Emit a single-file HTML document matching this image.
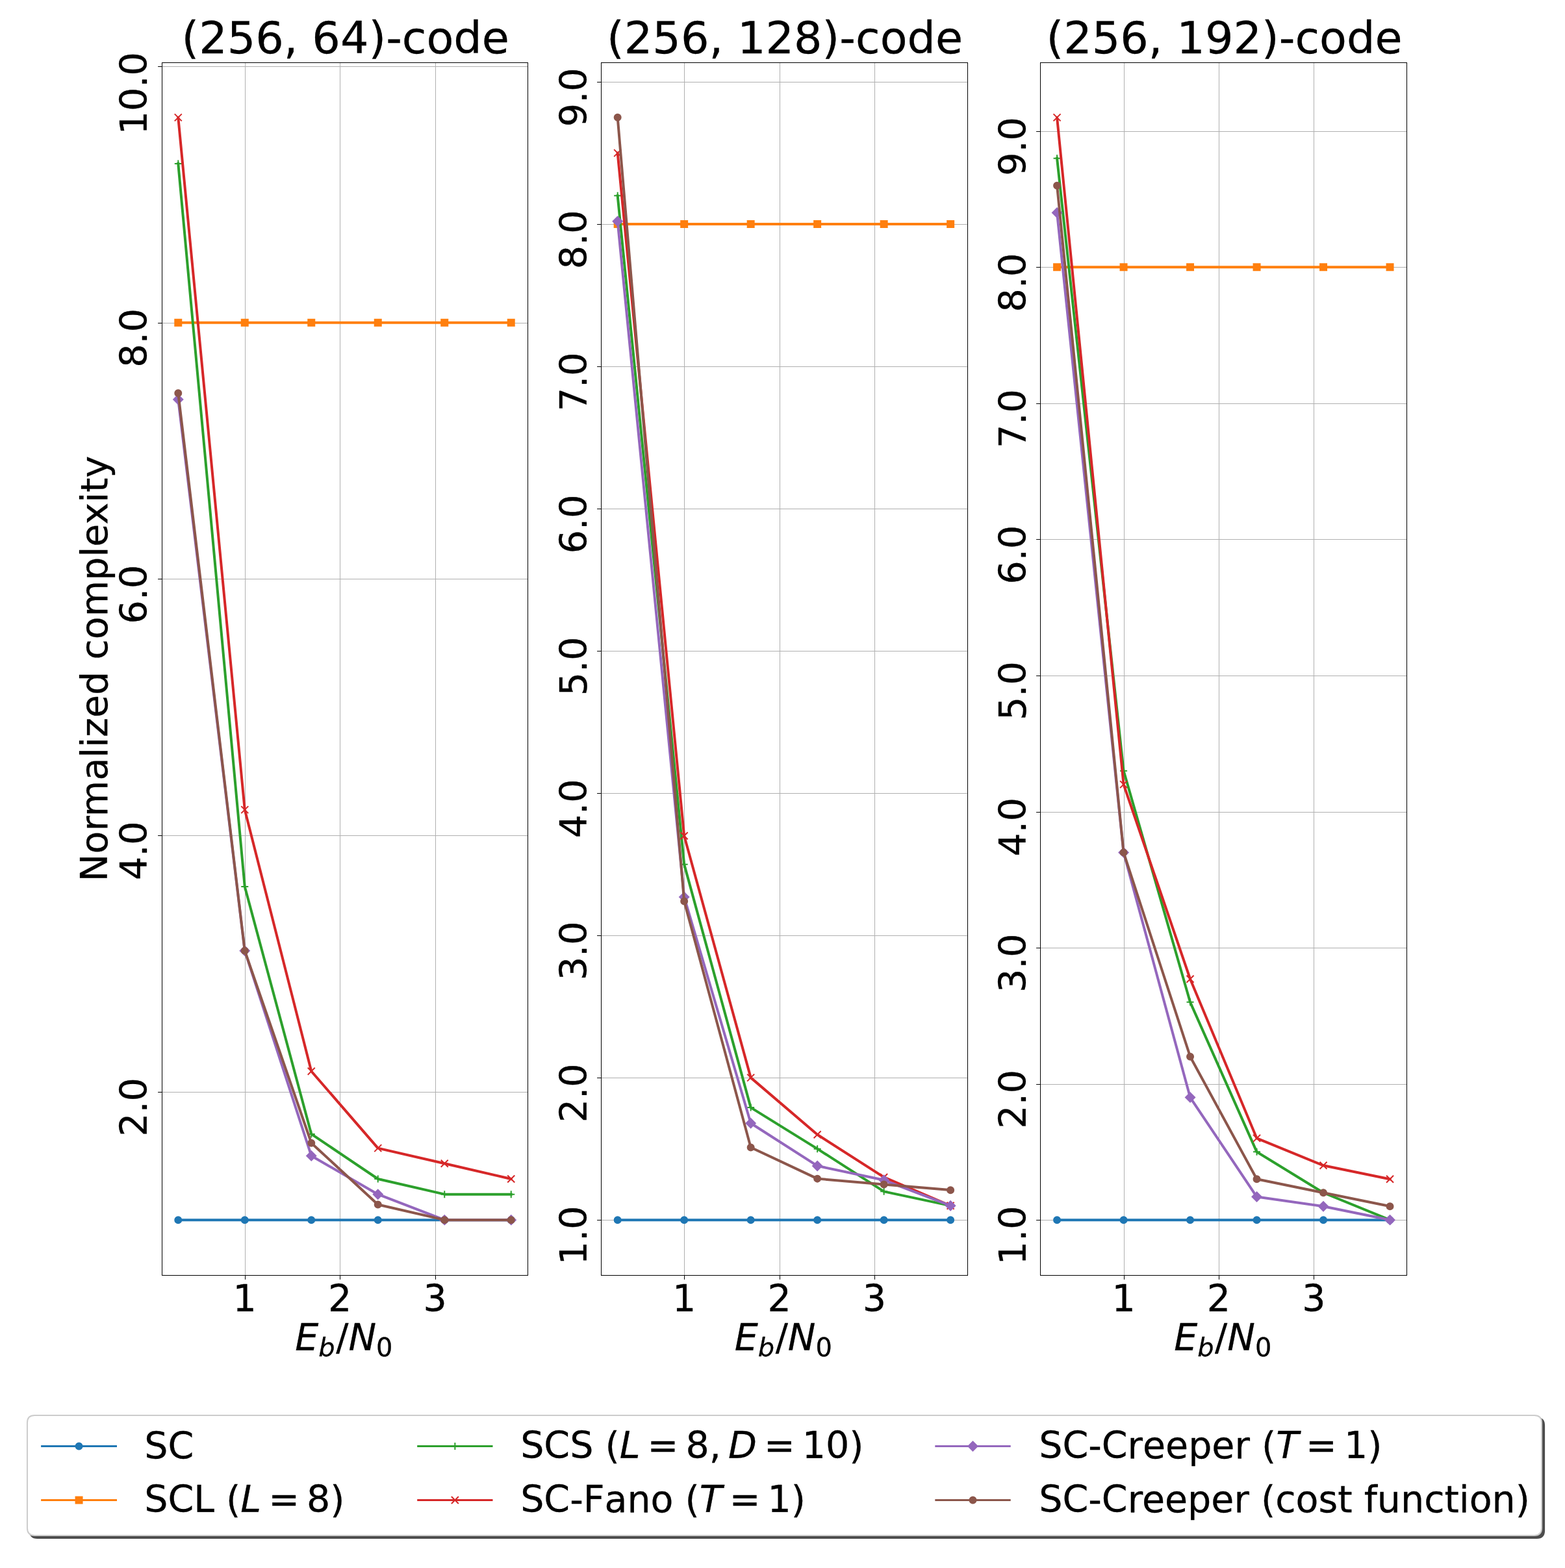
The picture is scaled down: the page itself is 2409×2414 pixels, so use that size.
<!DOCTYPE html>
<html><head><meta charset="utf-8"><title>Normalized complexity vs Eb/N0</title>
<style>html,body{margin:0;padding:0;background:#fff;}svg{display:block;}</style>
</head><body>
<svg width="2409" height="2414" viewBox="0 0 1204.5 1207">
  <defs>
  <style type="text/css">*{stroke-linejoin: round; stroke-linecap: butt} text{stroke:#000;stroke-width:0.15px;}</style>
 </defs>
 <g id="figure_1">
  <g id="patch_1">
   <path d="M 0 1207 L 1204.5 1207 L 1204.5 0 L 0 0 z
" style="fill: #ffffff"/>
  </g>
  <g id="axes_1">
   <g id="patch_2">
    <path d="M 124.325 981.5 L 406.175 981.5 L 406.175 48 L 124.325 48 z
" style="fill: #ffffff"/>
   </g>
   <g id="matplotlib.axis_1">
    <g id="xtick_1">
     <g id="line2d_1">
      <path d="M 188.7500 981.5 L 188.7500 48 " clip-path="url(#p4440f351e7)" style="fill: none; stroke: #b0b0b0; stroke-width: 0.5; stroke-linecap: square"/>
     </g>
     <g id="line2d_2">
      <defs>
       <path id="m60f537de14" d="M 0 0 L 0 3.2 " style="stroke: #000000; stroke-width: 0.5"/>
      </defs>
      <g>
       <use xlink:href="#m60f537de14" x="188.7500" y="981.7500" style="stroke: #000000; stroke-width: 0.5"/>
      </g>
     </g>
     <g id="text_1">
      <text style="font-size: 28.525px; font-family: 'DejaVu Sans', sans-serif; text-anchor: middle" x="188.381818" y="1009.474543" transform="rotate(-0 188.381818 1009.474543)">1</text>
     </g>
    </g>
    <g id="xtick_2">
     <g id="line2d_3">
      <path d="M 261.7500 981.5 L 261.7500 48 " clip-path="url(#p4440f351e7)" style="fill: none; stroke: #b0b0b0; stroke-width: 0.5; stroke-linecap: square"/>
     </g>
     <g id="line2d_4">
      <g>
       <use xlink:href="#m60f537de14" x="261.7500" y="981.7500" style="stroke: #000000; stroke-width: 0.5"/>
      </g>
     </g>
     <g id="text_2">
      <text style="font-size: 28.525px; font-family: 'DejaVu Sans', sans-serif; text-anchor: middle" x="261.58961" y="1009.474543" transform="rotate(-0 261.58961 1009.474543)">2</text>
     </g>
    </g>
    <g id="xtick_3">
     <g id="line2d_5">
      <path d="M 335.2500 981.5 L 335.2500 48 " clip-path="url(#p4440f351e7)" style="fill: none; stroke: #b0b0b0; stroke-width: 0.5; stroke-linecap: square"/>
     </g>
     <g id="line2d_6">
      <g>
       <use xlink:href="#m60f537de14" x="335.2500" y="981.7500" style="stroke: #000000; stroke-width: 0.5"/>
      </g>
     </g>
     <g id="text_3">
      <text style="font-size: 28.525px; font-family: 'DejaVu Sans', sans-serif; text-anchor: middle" x="334.797403" y="1009.474543" transform="rotate(-0 334.797403 1009.474543)">3</text>
     </g>
    </g>
    <g id="text_4">
     <!-- $E_b/N_0$ -->
     <g transform="translate(227.169125 1040.331395)">
      <text><tspan x="0" y="-0.859375" style="font-style: oblique; font-size: 28.525px; font-family: 'DejaVu Sans', sans-serif">E</tspan><tspan x="18.007324" y="3.898438" style="font-style: oblique; font-size: 19.9675px; font-family: 'DejaVu Sans', sans-serif">b</tspan><tspan x="31.463867" y="-0.859375" style="font-size: 28.525px; font-family: 'DejaVu Sans', sans-serif">/</tspan><tspan x="41.065918" y="-0.859375" style="font-style: oblique; font-size: 28.525px; font-family: 'DejaVu Sans', sans-serif">N</tspan><tspan x="62.385254" y="3.898438" style="font-size: 19.9675px; font-family: 'DejaVu Sans', sans-serif">0</tspan></text>
     </g>
    </g>
   </g>
   <g id="matplotlib.axis_2">
    <g id="ytick_1">
     <g id="line2d_7">
      <path d="M 124.325 840.7500 L 406.175 840.7500 " clip-path="url(#p4440f351e7)" style="fill: none; stroke: #b0b0b0; stroke-width: 0.5; stroke-linecap: square"/>
     </g>
     <g id="line2d_8">
      <defs>
       <path id="m4d8415eed5" d="M 0 0 L -3.2 0 " style="stroke: #000000; stroke-width: 0.5"/>
      </defs>
      <g>
       <use xlink:href="#m4d8415eed5" x="124.7500" y="840.7500" style="stroke: #000000; stroke-width: 0.5"/>
      </g>
     </g>
     <g id="text_5">
      <text style="font-size: 28.525px; font-family: 'DejaVu Sans', sans-serif" transform="translate(113.142691 874.915927) rotate(-90)">2.0</text>
     </g>
    </g>
    <g id="ytick_2">
     <g id="line2d_9">
      <path d="M 124.325 643.2500 L 406.175 643.2500 " clip-path="url(#p4440f351e7)" style="fill: none; stroke: #b0b0b0; stroke-width: 0.5; stroke-linecap: square"/>
     </g>
     <g id="line2d_10">
      <g>
       <use xlink:href="#m4d8415eed5" x="124.7500" y="643.2500" style="stroke: #000000; stroke-width: 0.5"/>
      </g>
     </g>
     <g id="text_6">
      <text style="font-size: 28.525px; font-family: 'DejaVu Sans', sans-serif" transform="translate(113.142691 677.558634) rotate(-90)">4.0</text>
     </g>
    </g>
    <g id="ytick_3">
     <g id="line2d_11">
      <path d="M 124.325 445.7500 L 406.175 445.7500 " clip-path="url(#p4440f351e7)" style="fill: none; stroke: #b0b0b0; stroke-width: 0.5; stroke-linecap: square"/>
     </g>
     <g id="line2d_12">
      <g>
       <use xlink:href="#m4d8415eed5" x="124.7500" y="445.7500" style="stroke: #000000; stroke-width: 0.5"/>
      </g>
     </g>
     <g id="text_7">
      <text style="font-size: 28.525px; font-family: 'DejaVu Sans', sans-serif" transform="translate(113.142691 480.20134) rotate(-90)">6.0</text>
     </g>
    </g>
    <g id="ytick_4">
     <g id="line2d_13">
      <path d="M 124.325 248.7500 L 406.175 248.7500 " clip-path="url(#p4440f351e7)" style="fill: none; stroke: #b0b0b0; stroke-width: 0.5; stroke-linecap: square"/>
     </g>
     <g id="line2d_14">
      <g>
       <use xlink:href="#m4d8415eed5" x="124.7500" y="248.7500" style="stroke: #000000; stroke-width: 0.5"/>
      </g>
     </g>
     <g id="text_8">
      <text style="font-size: 28.525px; font-family: 'DejaVu Sans', sans-serif" transform="translate(113.142691 282.844046) rotate(-90)">8.0</text>
     </g>
    </g>
    <g id="ytick_5">
     <g id="line2d_15">
      <path d="M 124.325 51.2500 L 406.175 51.2500 " clip-path="url(#p4440f351e7)" style="fill: none; stroke: #b0b0b0; stroke-width: 0.5; stroke-linecap: square"/>
     </g>
     <g id="line2d_16">
      <g>
       <use xlink:href="#m4d8415eed5" x="124.7500" y="51.2500" style="stroke: #000000; stroke-width: 0.5"/>
      </g>
     </g>
     <g id="text_9">
      <text style="font-size: 28.525px; font-family: 'DejaVu Sans', sans-serif" transform="translate(113.142691 103.635783) rotate(-90)">10.0</text>
     </g>
    </g>
    <g id="text_10">
     <text style="font-size: 28.525px; font-family: 'DejaVu Sans', sans-serif; text-anchor: middle" x="82.33584" y="514.75" transform="rotate(-90 82.33584 514.75)">Normalized complexity</text>
    </g>
   </g>
   <g id="line2d_17">
    <path d="M 137.136364 939.068182 L 188.381818 939.068182 L 239.627273 939.068182 L 290.872727 939.068182 L 342.118182 939.068182 L 393.363636 939.068182 " clip-path="url(#p4440f351e7)" style="fill: none; stroke: #1f77b4; stroke-width: 2; stroke-linecap: square"/>
    <defs>
     <path id="m7fca04d956" d="M 0 2.5 C 0.663008 2.5 1.29895 2.236584 1.767767 1.767767 C 2.236584 1.29895 2.5 0.663008 2.5 0 C 2.5 -0.663008 2.236584 -1.29895 1.767767 -1.767767 C 1.29895 -2.236584 0.663008 -2.5 0 -2.5 C -0.663008 -2.5 -1.29895 -2.236584 -1.767767 -1.767767 C -2.236584 -1.29895 -2.5 -0.663008 -2.5 0 C -2.5 0.663008 -2.236584 1.29895 -1.767767 1.767767 C -1.29895 2.236584 -0.663008 2.5 0 2.5 z
" style="stroke: #1f77b4"/>
    </defs>
    <g clip-path="url(#p4440f351e7)">
     <use xlink:href="#m7fca04d956" x="137.136364" y="939.068182" style="fill: #1f77b4; stroke: #1f77b4"/>
     <use xlink:href="#m7fca04d956" x="188.381818" y="939.068182" style="fill: #1f77b4; stroke: #1f77b4"/>
     <use xlink:href="#m7fca04d956" x="239.627273" y="939.068182" style="fill: #1f77b4; stroke: #1f77b4"/>
     <use xlink:href="#m7fca04d956" x="290.872727" y="939.068182" style="fill: #1f77b4; stroke: #1f77b4"/>
     <use xlink:href="#m7fca04d956" x="342.118182" y="939.068182" style="fill: #1f77b4; stroke: #1f77b4"/>
     <use xlink:href="#m7fca04d956" x="393.363636" y="939.068182" style="fill: #1f77b4; stroke: #1f77b4"/>
    </g>
   </g>
   <g id="line2d_18">
    <path d="M 137.136364 248.317653 L 188.381818 248.317653 L 239.627273 248.317653 L 290.872727 248.317653 L 342.118182 248.317653 L 393.363636 248.317653 " clip-path="url(#p4440f351e7)" style="fill: none; stroke: #ff7f0e; stroke-width: 2; stroke-linecap: square"/>
    <defs>
     <path id="mcfdd48ca96" d="M -2.5 2.5 L 2.5 2.5 L 2.5 -2.5 L -2.5 -2.5 z
" style="stroke: #ff7f0e; stroke-linejoin: miter"/>
    </defs>
    <g clip-path="url(#p4440f351e7)">
     <use xlink:href="#mcfdd48ca96" x="137.136364" y="248.317653" style="fill: #ff7f0e; stroke: #ff7f0e; stroke-linejoin: miter"/>
     <use xlink:href="#mcfdd48ca96" x="188.381818" y="248.317653" style="fill: #ff7f0e; stroke: #ff7f0e; stroke-linejoin: miter"/>
     <use xlink:href="#mcfdd48ca96" x="239.627273" y="248.317653" style="fill: #ff7f0e; stroke: #ff7f0e; stroke-linejoin: miter"/>
     <use xlink:href="#mcfdd48ca96" x="290.872727" y="248.317653" style="fill: #ff7f0e; stroke: #ff7f0e; stroke-linejoin: miter"/>
     <use xlink:href="#mcfdd48ca96" x="342.118182" y="248.317653" style="fill: #ff7f0e; stroke: #ff7f0e; stroke-linejoin: miter"/>
     <use xlink:href="#mcfdd48ca96" x="393.363636" y="248.317653" style="fill: #ff7f0e; stroke: #ff7f0e; stroke-linejoin: miter"/>
    </g>
   </g>
   <g id="line2d_19">
    <path d="M 137.136364 125.956131 L 188.381818 682.5037 L 239.627273 872.953488 L 290.872727 907.491015 L 342.118182 919.332452 L 393.363636 919.332452 " clip-path="url(#p4440f351e7)" style="fill: none; stroke: #2ca02c; stroke-width: 2; stroke-linecap: square"/>
    <defs>
     <path id="mfa1b8ec4ec" d="M -2.75 0 L 2.75 0 M 0 2.75 L 0 -2.75 " style="stroke: #2ca02c"/>
    </defs>
    <g clip-path="url(#p4440f351e7)">
     <use xlink:href="#mfa1b8ec4ec" x="137.136364" y="125.956131" style="fill: #2ca02c; stroke: #2ca02c"/>
     <use xlink:href="#mfa1b8ec4ec" x="188.381818" y="682.5037" style="fill: #2ca02c; stroke: #2ca02c"/>
     <use xlink:href="#mfa1b8ec4ec" x="239.627273" y="872.953488" style="fill: #2ca02c; stroke: #2ca02c"/>
     <use xlink:href="#mfa1b8ec4ec" x="290.872727" y="907.491015" style="fill: #2ca02c; stroke: #2ca02c"/>
     <use xlink:href="#mfa1b8ec4ec" x="342.118182" y="919.332452" style="fill: #2ca02c; stroke: #2ca02c"/>
     <use xlink:href="#mfa1b8ec4ec" x="393.363636" y="919.332452" style="fill: #2ca02c; stroke: #2ca02c"/>
    </g>
   </g>
   <g id="line2d_20">
    <path d="M 137.136364 90.431818 L 188.381818 623.296512 L 239.627273 824.600951 L 290.872727 883.80814 L 342.118182 895.649577 L 393.363636 907.491015 " clip-path="url(#p4440f351e7)" style="fill: none; stroke: #d62728; stroke-width: 2; stroke-linecap: square"/>
    <defs>
     <path id="mf3e1eaf41d" d="M -2.75 2.75 L 2.75 -2.75 M -2.75 -2.75 L 2.75 2.75 " style="stroke: #d62728"/>
    </defs>
    <g clip-path="url(#p4440f351e7)">
     <use xlink:href="#mf3e1eaf41d" x="137.136364" y="90.431818" style="fill: #d62728; stroke: #d62728"/>
     <use xlink:href="#mf3e1eaf41d" x="188.381818" y="623.296512" style="fill: #d62728; stroke: #d62728"/>
     <use xlink:href="#mf3e1eaf41d" x="239.627273" y="824.600951" style="fill: #d62728; stroke: #d62728"/>
     <use xlink:href="#mf3e1eaf41d" x="290.872727" y="883.80814" style="fill: #d62728; stroke: #d62728"/>
     <use xlink:href="#mf3e1eaf41d" x="342.118182" y="895.649577" style="fill: #d62728; stroke: #d62728"/>
     <use xlink:href="#mf3e1eaf41d" x="393.363636" y="907.491015" style="fill: #d62728; stroke: #d62728"/>
    </g>
   </g>
   <g id="line2d_21">
    <path d="M 137.136364 307.524841 L 188.381818 731.843023 L 239.627273 889.728858 L 290.872727 919.332452 L 342.118182 939.068182 L 393.363636 939.068182 " clip-path="url(#p4440f351e7)" style="fill: none; stroke: #9467bd; stroke-width: 2; stroke-linecap: square"/>
    <defs>
     <path id="mfa4d818916" d="M -0 3.535534 L 3.535534 0 L 0 -3.535534 L -3.535534 -0 z
" style="stroke: #9467bd; stroke-linejoin: miter"/>
    </defs>
    <g clip-path="url(#p4440f351e7)">
     <use xlink:href="#mfa4d818916" x="137.136364" y="307.524841" style="fill: #9467bd; stroke: #9467bd; stroke-linejoin: miter"/>
     <use xlink:href="#mfa4d818916" x="188.381818" y="731.843023" style="fill: #9467bd; stroke: #9467bd; stroke-linejoin: miter"/>
     <use xlink:href="#mfa4d818916" x="239.627273" y="889.728858" style="fill: #9467bd; stroke: #9467bd; stroke-linejoin: miter"/>
     <use xlink:href="#mfa4d818916" x="290.872727" y="919.332452" style="fill: #9467bd; stroke: #9467bd; stroke-linejoin: miter"/>
     <use xlink:href="#mfa4d818916" x="342.118182" y="939.068182" style="fill: #9467bd; stroke: #9467bd; stroke-linejoin: miter"/>
     <use xlink:href="#mfa4d818916" x="393.363636" y="939.068182" style="fill: #9467bd; stroke: #9467bd; stroke-linejoin: miter"/>
    </g>
   </g>
   <g id="line2d_22">
    <path d="M 137.136364 302.590909 L 188.381818 731.843023 L 239.627273 879.860994 L 290.872727 927.226744 L 342.118182 939.068182 L 393.363636 939.068182 " clip-path="url(#p4440f351e7)" style="fill: none; stroke: #8c564b; stroke-width: 2; stroke-linecap: square"/>
    <defs>
     <path id="m0a47471f37" d="M 0 2.5 C 0.663008 2.5 1.29895 2.236584 1.767767 1.767767 C 2.236584 1.29895 2.5 0.663008 2.5 0 C 2.5 -0.663008 2.236584 -1.29895 1.767767 -1.767767 C 1.29895 -2.236584 0.663008 -2.5 0 -2.5 C -0.663008 -2.5 -1.29895 -2.236584 -1.767767 -1.767767 C -2.236584 -1.29895 -2.5 -0.663008 -2.5 0 C -2.5 0.663008 -2.236584 1.29895 -1.767767 1.767767 C -1.29895 2.236584 -0.663008 2.5 0 2.5 z
" style="stroke: #8c564b"/>
    </defs>
    <g clip-path="url(#p4440f351e7)">
     <use xlink:href="#m0a47471f37" x="137.136364" y="302.590909" style="fill: #8c564b; stroke: #8c564b"/>
     <use xlink:href="#m0a47471f37" x="188.381818" y="731.843023" style="fill: #8c564b; stroke: #8c564b"/>
     <use xlink:href="#m0a47471f37" x="239.627273" y="879.860994" style="fill: #8c564b; stroke: #8c564b"/>
     <use xlink:href="#m0a47471f37" x="290.872727" y="927.226744" style="fill: #8c564b; stroke: #8c564b"/>
     <use xlink:href="#m0a47471f37" x="342.118182" y="939.068182" style="fill: #8c564b; stroke: #8c564b"/>
     <use xlink:href="#m0a47471f37" x="393.363636" y="939.068182" style="fill: #8c564b; stroke: #8c564b"/>
    </g>
   </g>
   <g id="patch_3">
    <path d="M 124.7500 981.7500 L 124.7500 48.2500 " style="fill: none; stroke: #000000; stroke-width: 0.5; stroke-linejoin: miter; stroke-linecap: square"/>
   </g>
   <g id="patch_4">
    <path d="M 406.2500 981.7500 L 406.2500 48.2500 " style="fill: none; stroke: #000000; stroke-width: 0.5; stroke-linejoin: miter; stroke-linecap: square"/>
   </g>
   <g id="patch_5">
    <path d="M 124.7500 981.7500 L 406.2500 981.7500 " style="fill: none; stroke: #000000; stroke-width: 0.5; stroke-linejoin: miter; stroke-linecap: square"/>
   </g>
   <g id="patch_6">
    <path d="M 124.7500 48.2500 L 406.2500 48.2500 " style="fill: none; stroke: #000000; stroke-width: 0.5; stroke-linejoin: miter; stroke-linecap: square"/>
   </g>
   <g id="text_11">
    <text style="font-size: 34.23px; font-family: 'DejaVu Sans', sans-serif; text-anchor: middle" x="265.85" y="40.88123" transform="rotate(-0 265.85 40.88123)">(256, 64)-code</text>
   </g>
  </g>
  <g id="axes_2">
   <g id="patch_7">
    <path d="M 462.525 981.5 L 744.375 981.5 L 744.375 48 L 462.525 48 z
" style="fill: #ffffff"/>
   </g>
   <g id="matplotlib.axis_3">
    <g id="xtick_4">
     <g id="line2d_23">
      <path d="M 526.7500 981.5 L 526.7500 48 " clip-path="url(#p28c9ab3d0b)" style="fill: none; stroke: #b0b0b0; stroke-width: 0.5; stroke-linecap: square"/>
     </g>
     <g id="line2d_24">
      <g>
       <use xlink:href="#m60f537de14" x="526.7500" y="981.7500" style="stroke: #000000; stroke-width: 0.5"/>
      </g>
     </g>
     <g id="text_12">
      <text style="font-size: 28.525px; font-family: 'DejaVu Sans', sans-serif; text-anchor: middle" x="526.581818" y="1009.474543" transform="rotate(-0 526.581818 1009.474543)">1</text>
     </g>
    </g>
    <g id="xtick_5">
     <g id="line2d_25">
      <path d="M 600.2500 981.5 L 600.2500 48 " clip-path="url(#p28c9ab3d0b)" style="fill: none; stroke: #b0b0b0; stroke-width: 0.5; stroke-linecap: square"/>
     </g>
     <g id="line2d_26">
      <g>
       <use xlink:href="#m60f537de14" x="600.2500" y="981.7500" style="stroke: #000000; stroke-width: 0.5"/>
      </g>
     </g>
     <g id="text_13">
      <text style="font-size: 28.525px; font-family: 'DejaVu Sans', sans-serif; text-anchor: middle" x="599.78961" y="1009.474543" transform="rotate(-0 599.78961 1009.474543)">2</text>
     </g>
    </g>
    <g id="xtick_6">
     <g id="line2d_27">
      <path d="M 673.2500 981.5 L 673.2500 48 " clip-path="url(#p28c9ab3d0b)" style="fill: none; stroke: #b0b0b0; stroke-width: 0.5; stroke-linecap: square"/>
     </g>
     <g id="line2d_28">
      <g>
       <use xlink:href="#m60f537de14" x="673.2500" y="981.7500" style="stroke: #000000; stroke-width: 0.5"/>
      </g>
     </g>
     <g id="text_14">
      <text style="font-size: 28.525px; font-family: 'DejaVu Sans', sans-serif; text-anchor: middle" x="672.997403" y="1009.474543" transform="rotate(-0 672.997403 1009.474543)">3</text>
     </g>
    </g>
    <g id="text_15">
     <!-- $E_b/N_0$ -->
     <g transform="translate(565.369125 1040.331395)">
      <text><tspan x="0" y="-0.859375" style="font-style: oblique; font-size: 28.525px; font-family: 'DejaVu Sans', sans-serif">E</tspan><tspan x="18.007324" y="3.898438" style="font-style: oblique; font-size: 19.9675px; font-family: 'DejaVu Sans', sans-serif">b</tspan><tspan x="31.463867" y="-0.859375" style="font-size: 28.525px; font-family: 'DejaVu Sans', sans-serif">/</tspan><tspan x="41.065918" y="-0.859375" style="font-style: oblique; font-size: 28.525px; font-family: 'DejaVu Sans', sans-serif">N</tspan><tspan x="62.385254" y="3.898438" style="font-size: 19.9675px; font-family: 'DejaVu Sans', sans-serif">0</tspan></text>
     </g>
    </g>
   </g>
   <g id="matplotlib.axis_4">
    <g id="ytick_6">
     <g id="line2d_29">
      <path d="M 462.525 939.2500 L 744.375 939.2500 " clip-path="url(#p28c9ab3d0b)" style="fill: none; stroke: #b0b0b0; stroke-width: 0.5; stroke-linecap: square"/>
     </g>
     <g id="line2d_30">
      <g>
       <use xlink:href="#m4d8415eed5" x="462.7500" y="939.2500" style="stroke: #000000; stroke-width: 0.5"/>
      </g>
     </g>
     <g id="text_16">
      <text style="font-size: 28.525px; font-family: 'DejaVu Sans', sans-serif" transform="translate(451.342691 973.594574) rotate(-90)">1.0</text>
     </g>
    </g>
    <g id="ytick_7">
     <g id="line2d_31">
      <path d="M 462.525 829.7500 L 744.375 829.7500 " clip-path="url(#p28c9ab3d0b)" style="fill: none; stroke: #b0b0b0; stroke-width: 0.5; stroke-linecap: square"/>
     </g>
     <g id="line2d_32">
      <g>
       <use xlink:href="#m4d8415eed5" x="462.7500" y="829.7500" style="stroke: #000000; stroke-width: 0.5"/>
      </g>
     </g>
     <g id="text_17">
      <text style="font-size: 28.525px; font-family: 'DejaVu Sans', sans-serif" transform="translate(451.342691 864.093108) rotate(-90)">2.0</text>
     </g>
    </g>
    <g id="ytick_8">
     <g id="line2d_33">
      <path d="M 462.525 720.2500 L 744.375 720.2500 " clip-path="url(#p28c9ab3d0b)" style="fill: none; stroke: #b0b0b0; stroke-width: 0.5; stroke-linecap: square"/>
     </g>
     <g id="line2d_34">
      <g>
       <use xlink:href="#m4d8415eed5" x="462.7500" y="720.2500" style="stroke: #000000; stroke-width: 0.5"/>
      </g>
     </g>
     <g id="text_18">
      <text style="font-size: 28.525px; font-family: 'DejaVu Sans', sans-serif" transform="translate(451.342691 754.591642) rotate(-90)">3.0</text>
     </g>
    </g>
    <g id="ytick_9">
     <g id="line2d_35">
      <path d="M 462.525 610.7500 L 744.375 610.7500 " clip-path="url(#p28c9ab3d0b)" style="fill: none; stroke: #b0b0b0; stroke-width: 0.5; stroke-linecap: square"/>
     </g>
     <g id="line2d_36">
      <g>
       <use xlink:href="#m4d8415eed5" x="462.7500" y="610.7500" style="stroke: #000000; stroke-width: 0.5"/>
      </g>
     </g>
     <g id="text_19">
      <text style="font-size: 28.525px; font-family: 'DejaVu Sans', sans-serif" transform="translate(451.342691 645.090176) rotate(-90)">4.0</text>
     </g>
    </g>
    <g id="ytick_10">
     <g id="line2d_37">
      <path d="M 462.525 501.2500 L 744.375 501.2500 " clip-path="url(#p28c9ab3d0b)" style="fill: none; stroke: #b0b0b0; stroke-width: 0.5; stroke-linecap: square"/>
     </g>
     <g id="line2d_38">
      <g>
       <use xlink:href="#m4d8415eed5" x="462.7500" y="501.2500" style="stroke: #000000; stroke-width: 0.5"/>
      </g>
     </g>
     <g id="text_20">
      <text style="font-size: 28.525px; font-family: 'DejaVu Sans', sans-serif" transform="translate(451.342691 535.588709) rotate(-90)">5.0</text>
     </g>
    </g>
    <g id="ytick_11">
     <g id="line2d_39">
      <path d="M 462.525 391.7500 L 744.375 391.7500 " clip-path="url(#p28c9ab3d0b)" style="fill: none; stroke: #b0b0b0; stroke-width: 0.5; stroke-linecap: square"/>
     </g>
     <g id="line2d_40">
      <g>
       <use xlink:href="#m4d8415eed5" x="462.7500" y="391.7500" style="stroke: #000000; stroke-width: 0.5"/>
      </g>
     </g>
     <g id="text_21">
      <text style="font-size: 28.525px; font-family: 'DejaVu Sans', sans-serif" transform="translate(451.342691 426.087243) rotate(-90)">6.0</text>
     </g>
    </g>
    <g id="ytick_12">
     <g id="line2d_41">
      <path d="M 462.525 282.2500 L 744.375 282.2500 " clip-path="url(#p28c9ab3d0b)" style="fill: none; stroke: #b0b0b0; stroke-width: 0.5; stroke-linecap: square"/>
     </g>
     <g id="line2d_42">
      <g>
       <use xlink:href="#m4d8415eed5" x="462.7500" y="282.2500" style="stroke: #000000; stroke-width: 0.5"/>
      </g>
     </g>
     <g id="text_22">
      <text style="font-size: 28.525px; font-family: 'DejaVu Sans', sans-serif" transform="translate(451.342691 316.585777) rotate(-90)">7.0</text>
     </g>
    </g>
    <g id="ytick_13">
     <g id="line2d_43">
      <path d="M 462.525 172.7500 L 744.375 172.7500 " clip-path="url(#p28c9ab3d0b)" style="fill: none; stroke: #b0b0b0; stroke-width: 0.5; stroke-linecap: square"/>
     </g>
     <g id="line2d_44">
      <g>
       <use xlink:href="#m4d8415eed5" x="462.7500" y="172.7500" style="stroke: #000000; stroke-width: 0.5"/>
      </g>
     </g>
     <g id="text_23">
      <text style="font-size: 28.525px; font-family: 'DejaVu Sans', sans-serif" transform="translate(451.342691 207.08431) rotate(-90)">8.0</text>
     </g>
    </g>
    <g id="ytick_14">
     <g id="line2d_45">
      <path d="M 462.525 63.2500 L 744.375 63.2500 " clip-path="url(#p28c9ab3d0b)" style="fill: none; stroke: #b0b0b0; stroke-width: 0.5; stroke-linecap: square"/>
     </g>
     <g id="line2d_46">
      <g>
       <use xlink:href="#m4d8415eed5" x="462.7500" y="63.2500" style="stroke: #000000; stroke-width: 0.5"/>
      </g>
     </g>
     <g id="text_24">
      <text style="font-size: 28.525px; font-family: 'DejaVu Sans', sans-serif" transform="translate(451.342691 97.582844) rotate(-90)">9.0</text>
     </g>
    </g>
   </g>
   <g id="line2d_47">
    <path d="M 475.336364 939.068182 L 526.581818 939.068182 L 577.827273 939.068182 L 629.072727 939.068182 L 680.318182 939.068182 L 731.563636 939.068182 " clip-path="url(#p28c9ab3d0b)" style="fill: none; stroke: #1f77b4; stroke-width: 2; stroke-linecap: square"/>
    <g clip-path="url(#p28c9ab3d0b)">
     <use xlink:href="#m7fca04d956" x="475.336364" y="939.068182" style="fill: #1f77b4; stroke: #1f77b4"/>
     <use xlink:href="#m7fca04d956" x="526.581818" y="939.068182" style="fill: #1f77b4; stroke: #1f77b4"/>
     <use xlink:href="#m7fca04d956" x="577.827273" y="939.068182" style="fill: #1f77b4; stroke: #1f77b4"/>
     <use xlink:href="#m7fca04d956" x="629.072727" y="939.068182" style="fill: #1f77b4; stroke: #1f77b4"/>
     <use xlink:href="#m7fca04d956" x="680.318182" y="939.068182" style="fill: #1f77b4; stroke: #1f77b4"/>
     <use xlink:href="#m7fca04d956" x="731.563636" y="939.068182" style="fill: #1f77b4; stroke: #1f77b4"/>
    </g>
   </g>
   <g id="line2d_48">
    <path d="M 475.336364 172.557918 L 526.581818 172.557918 L 577.827273 172.557918 L 629.072727 172.557918 L 680.318182 172.557918 L 731.563636 172.557918 " clip-path="url(#p28c9ab3d0b)" style="fill: none; stroke: #ff7f0e; stroke-width: 2; stroke-linecap: square"/>
    <g clip-path="url(#p28c9ab3d0b)">
     <use xlink:href="#mcfdd48ca96" x="475.336364" y="172.557918" style="fill: #ff7f0e; stroke: #ff7f0e; stroke-linejoin: miter"/>
     <use xlink:href="#mcfdd48ca96" x="526.581818" y="172.557918" style="fill: #ff7f0e; stroke: #ff7f0e; stroke-linejoin: miter"/>
     <use xlink:href="#mcfdd48ca96" x="577.827273" y="172.557918" style="fill: #ff7f0e; stroke: #ff7f0e; stroke-linejoin: miter"/>
     <use xlink:href="#mcfdd48ca96" x="629.072727" y="172.557918" style="fill: #ff7f0e; stroke: #ff7f0e; stroke-linejoin: miter"/>
     <use xlink:href="#mcfdd48ca96" x="680.318182" y="172.557918" style="fill: #ff7f0e; stroke: #ff7f0e; stroke-linejoin: miter"/>
     <use xlink:href="#mcfdd48ca96" x="731.563636" y="172.557918" style="fill: #ff7f0e; stroke: #ff7f0e; stroke-linejoin: miter"/>
    </g>
   </g>
   <g id="line2d_49">
    <path d="M 475.336364 150.657625 L 526.581818 665.314516 L 577.827273 852.562023 L 629.072727 884.317449 L 680.318182 917.167889 L 731.563636 928.118035 " clip-path="url(#p28c9ab3d0b)" style="fill: none; stroke: #2ca02c; stroke-width: 2; stroke-linecap: square"/>
    <g clip-path="url(#p28c9ab3d0b)">
     <use xlink:href="#mfa1b8ec4ec" x="475.336364" y="150.657625" style="fill: #2ca02c; stroke: #2ca02c"/>
     <use xlink:href="#mfa1b8ec4ec" x="526.581818" y="665.314516" style="fill: #2ca02c; stroke: #2ca02c"/>
     <use xlink:href="#mfa1b8ec4ec" x="577.827273" y="852.562023" style="fill: #2ca02c; stroke: #2ca02c"/>
     <use xlink:href="#mfa1b8ec4ec" x="629.072727" y="884.317449" style="fill: #2ca02c; stroke: #2ca02c"/>
     <use xlink:href="#mfa1b8ec4ec" x="680.318182" y="917.167889" style="fill: #2ca02c; stroke: #2ca02c"/>
     <use xlink:href="#mfa1b8ec4ec" x="731.563636" y="928.118035" style="fill: #2ca02c; stroke: #2ca02c"/>
    </g>
   </g>
   <g id="line2d_50">
    <path d="M 475.336364 117.807185 L 526.581818 643.414223 L 577.827273 829.566716 L 629.072727 873.367302 L 680.318182 906.217742 L 731.563636 928.118035 " clip-path="url(#p28c9ab3d0b)" style="fill: none; stroke: #d62728; stroke-width: 2; stroke-linecap: square"/>
    <g clip-path="url(#p28c9ab3d0b)">
     <use xlink:href="#mf3e1eaf41d" x="475.336364" y="117.807185" style="fill: #d62728; stroke: #d62728"/>
     <use xlink:href="#mf3e1eaf41d" x="526.581818" y="643.414223" style="fill: #d62728; stroke: #d62728"/>
     <use xlink:href="#mf3e1eaf41d" x="577.827273" y="829.566716" style="fill: #d62728; stroke: #d62728"/>
     <use xlink:href="#mf3e1eaf41d" x="629.072727" y="873.367302" style="fill: #d62728; stroke: #d62728"/>
     <use xlink:href="#mf3e1eaf41d" x="680.318182" y="906.217742" style="fill: #d62728; stroke: #d62728"/>
     <use xlink:href="#mf3e1eaf41d" x="731.563636" y="928.118035" style="fill: #d62728; stroke: #d62728"/>
    </g>
   </g>
   <g id="line2d_51">
    <path d="M 475.336364 170.367889 L 526.581818 690.499853 L 577.827273 864.607185 L 629.072727 897.457625 L 680.318182 908.407771 L 731.563636 928.118035 " clip-path="url(#p28c9ab3d0b)" style="fill: none; stroke: #9467bd; stroke-width: 2; stroke-linecap: square"/>
    <g clip-path="url(#p28c9ab3d0b)">
     <use xlink:href="#mfa4d818916" x="475.336364" y="170.367889" style="fill: #9467bd; stroke: #9467bd; stroke-linejoin: miter"/>
     <use xlink:href="#mfa4d818916" x="526.581818" y="690.499853" style="fill: #9467bd; stroke: #9467bd; stroke-linejoin: miter"/>
     <use xlink:href="#mfa4d818916" x="577.827273" y="864.607185" style="fill: #9467bd; stroke: #9467bd; stroke-linejoin: miter"/>
     <use xlink:href="#mfa4d818916" x="629.072727" y="897.457625" style="fill: #9467bd; stroke: #9467bd; stroke-linejoin: miter"/>
     <use xlink:href="#mfa4d818916" x="680.318182" y="908.407771" style="fill: #9467bd; stroke: #9467bd; stroke-linejoin: miter"/>
     <use xlink:href="#mfa4d818916" x="731.563636" y="928.118035" style="fill: #9467bd; stroke: #9467bd; stroke-linejoin: miter"/>
    </g>
   </g>
   <g id="line2d_52">
    <path d="M 475.336364 90.431818 L 526.581818 693.784897 L 577.827273 883.222434 L 629.072727 907.312757 L 680.318182 911.692815 L 731.563636 916.072874 " clip-path="url(#p28c9ab3d0b)" style="fill: none; stroke: #8c564b; stroke-width: 2; stroke-linecap: square"/>
    <g clip-path="url(#p28c9ab3d0b)">
     <use xlink:href="#m0a47471f37" x="475.336364" y="90.431818" style="fill: #8c564b; stroke: #8c564b"/>
     <use xlink:href="#m0a47471f37" x="526.581818" y="693.784897" style="fill: #8c564b; stroke: #8c564b"/>
     <use xlink:href="#m0a47471f37" x="577.827273" y="883.222434" style="fill: #8c564b; stroke: #8c564b"/>
     <use xlink:href="#m0a47471f37" x="629.072727" y="907.312757" style="fill: #8c564b; stroke: #8c564b"/>
     <use xlink:href="#m0a47471f37" x="680.318182" y="911.692815" style="fill: #8c564b; stroke: #8c564b"/>
     <use xlink:href="#m0a47471f37" x="731.563636" y="916.072874" style="fill: #8c564b; stroke: #8c564b"/>
    </g>
   </g>
   <g id="patch_8">
    <path d="M 462.7500 981.7500 L 462.7500 48.2500 " style="fill: none; stroke: #000000; stroke-width: 0.5; stroke-linejoin: miter; stroke-linecap: square"/>
   </g>
   <g id="patch_9">
    <path d="M 744.7500 981.7500 L 744.7500 48.2500 " style="fill: none; stroke: #000000; stroke-width: 0.5; stroke-linejoin: miter; stroke-linecap: square"/>
   </g>
   <g id="patch_10">
    <path d="M 462.7500 981.7500 L 744.7500 981.7500 " style="fill: none; stroke: #000000; stroke-width: 0.5; stroke-linejoin: miter; stroke-linecap: square"/>
   </g>
   <g id="patch_11">
    <path d="M 462.7500 48.2500 L 744.7500 48.2500 " style="fill: none; stroke: #000000; stroke-width: 0.5; stroke-linejoin: miter; stroke-linecap: square"/>
   </g>
   <g id="text_25">
    <text style="font-size: 34.23px; font-family: 'DejaVu Sans', sans-serif; text-anchor: middle" x="604.05" y="40.88123" transform="rotate(-0 604.05 40.88123)">(256, 128)-code</text>
   </g>
  </g>
  <g id="axes_3">
   <g id="patch_12">
    <path d="M 800.725 981.5 L 1082.575 981.5 L 1082.575 48 L 800.725 48 z
" style="fill: #ffffff"/>
   </g>
   <g id="matplotlib.axis_5">
    <g id="xtick_7">
     <g id="line2d_53">
      <path d="M 865.2500 981.5 L 865.2500 48 " clip-path="url(#p99d2188cec)" style="fill: none; stroke: #b0b0b0; stroke-width: 0.5; stroke-linecap: square"/>
     </g>
     <g id="line2d_54">
      <g>
       <use xlink:href="#m60f537de14" x="865.2500" y="981.7500" style="stroke: #000000; stroke-width: 0.5"/>
      </g>
     </g>
     <g id="text_26">
      <text style="font-size: 28.525px; font-family: 'DejaVu Sans', sans-serif; text-anchor: middle" x="864.781818" y="1009.474543" transform="rotate(-0 864.781818 1009.474543)">1</text>
     </g>
    </g>
    <g id="xtick_8">
     <g id="line2d_55">
      <path d="M 938.2500 981.5 L 938.2500 48 " clip-path="url(#p99d2188cec)" style="fill: none; stroke: #b0b0b0; stroke-width: 0.5; stroke-linecap: square"/>
     </g>
     <g id="line2d_56">
      <g>
       <use xlink:href="#m60f537de14" x="938.2500" y="981.7500" style="stroke: #000000; stroke-width: 0.5"/>
      </g>
     </g>
     <g id="text_27">
      <text style="font-size: 28.525px; font-family: 'DejaVu Sans', sans-serif; text-anchor: middle" x="937.98961" y="1009.474543" transform="rotate(-0 937.98961 1009.474543)">2</text>
     </g>
    </g>
    <g id="xtick_9">
     <g id="line2d_57">
      <path d="M 1011.2500 981.5 L 1011.2500 48 " clip-path="url(#p99d2188cec)" style="fill: none; stroke: #b0b0b0; stroke-width: 0.5; stroke-linecap: square"/>
     </g>
     <g id="line2d_58">
      <g>
       <use xlink:href="#m60f537de14" x="1011.2500" y="981.7500" style="stroke: #000000; stroke-width: 0.5"/>
      </g>
     </g>
     <g id="text_28">
      <text style="font-size: 28.525px; font-family: 'DejaVu Sans', sans-serif; text-anchor: middle" x="1011.197403" y="1009.474543" transform="rotate(-0 1011.197403 1009.474543)">3</text>
     </g>
    </g>
    <g id="text_29">
     <!-- $E_b/N_0$ -->
     <g transform="translate(903.569125 1040.331395)">
      <text><tspan x="0" y="-0.859375" style="font-style: oblique; font-size: 28.525px; font-family: 'DejaVu Sans', sans-serif">E</tspan><tspan x="18.007324" y="3.898438" style="font-style: oblique; font-size: 19.9675px; font-family: 'DejaVu Sans', sans-serif">b</tspan><tspan x="31.463867" y="-0.859375" style="font-size: 28.525px; font-family: 'DejaVu Sans', sans-serif">/</tspan><tspan x="41.065918" y="-0.859375" style="font-style: oblique; font-size: 28.525px; font-family: 'DejaVu Sans', sans-serif">N</tspan><tspan x="62.385254" y="3.898438" style="font-size: 19.9675px; font-family: 'DejaVu Sans', sans-serif">0</tspan></text>
     </g>
    </g>
   </g>
   <g id="matplotlib.axis_6">
    <g id="ytick_15">
     <g id="line2d_59">
      <path d="M 800.725 939.2500 L 1082.575 939.2500 " clip-path="url(#p99d2188cec)" style="fill: none; stroke: #b0b0b0; stroke-width: 0.5; stroke-linecap: square"/>
     </g>
     <g id="line2d_60">
      <g>
       <use xlink:href="#m4d8415eed5" x="800.7500" y="939.2500" style="stroke: #000000; stroke-width: 0.5"/>
      </g>
     </g>
     <g id="text_30">
      <text style="font-size: 28.525px; font-family: 'DejaVu Sans', sans-serif" transform="translate(789.542691 973.594574) rotate(-90)">1.0</text>
     </g>
    </g>
    <g id="ytick_16">
     <g id="line2d_61">
      <path d="M 800.725 834.7500 L 1082.575 834.7500 " clip-path="url(#p99d2188cec)" style="fill: none; stroke: #b0b0b0; stroke-width: 0.5; stroke-linecap: square"/>
     </g>
     <g id="line2d_62">
      <g>
       <use xlink:href="#m4d8415eed5" x="800.7500" y="834.7500" style="stroke: #000000; stroke-width: 0.5"/>
      </g>
     </g>
     <g id="text_31">
      <text style="font-size: 28.525px; font-family: 'DejaVu Sans', sans-serif" transform="translate(789.542691 868.824653) rotate(-90)">2.0</text>
     </g>
    </g>
    <g id="ytick_17">
     <g id="line2d_63">
      <path d="M 800.725 729.7500 L 1082.575 729.7500 " clip-path="url(#p99d2188cec)" style="fill: none; stroke: #b0b0b0; stroke-width: 0.5; stroke-linecap: square"/>
     </g>
     <g id="line2d_64">
      <g>
       <use xlink:href="#m4d8415eed5" x="800.7500" y="729.7500" style="stroke: #000000; stroke-width: 0.5"/>
      </g>
     </g>
     <g id="text_32">
      <text style="font-size: 28.525px; font-family: 'DejaVu Sans', sans-serif" transform="translate(789.542691 764.054732) rotate(-90)">3.0</text>
     </g>
    </g>
    <g id="ytick_18">
     <g id="line2d_65">
      <path d="M 800.725 625.2500 L 1082.575 625.2500 " clip-path="url(#p99d2188cec)" style="fill: none; stroke: #b0b0b0; stroke-width: 0.5; stroke-linecap: square"/>
     </g>
     <g id="line2d_66">
      <g>
       <use xlink:href="#m4d8415eed5" x="800.7500" y="625.2500" style="stroke: #000000; stroke-width: 0.5"/>
      </g>
     </g>
     <g id="text_33">
      <text style="font-size: 28.525px; font-family: 'DejaVu Sans', sans-serif" transform="translate(789.542691 659.28481) rotate(-90)">4.0</text>
     </g>
    </g>
    <g id="ytick_19">
     <g id="line2d_67">
      <path d="M 800.725 520.2500 L 1082.575 520.2500 " clip-path="url(#p99d2188cec)" style="fill: none; stroke: #b0b0b0; stroke-width: 0.5; stroke-linecap: square"/>
     </g>
     <g id="line2d_68">
      <g>
       <use xlink:href="#m4d8415eed5" x="800.7500" y="520.2500" style="stroke: #000000; stroke-width: 0.5"/>
      </g>
     </g>
     <g id="text_34">
      <text style="font-size: 28.525px; font-family: 'DejaVu Sans', sans-serif" transform="translate(789.542691 554.514889) rotate(-90)">5.0</text>
     </g>
    </g>
    <g id="ytick_20">
     <g id="line2d_69">
      <path d="M 800.725 415.2500 L 1082.575 415.2500 " clip-path="url(#p99d2188cec)" style="fill: none; stroke: #b0b0b0; stroke-width: 0.5; stroke-linecap: square"/>
     </g>
     <g id="line2d_70">
      <g>
       <use xlink:href="#m4d8415eed5" x="800.7500" y="415.2500" style="stroke: #000000; stroke-width: 0.5"/>
      </g>
     </g>
     <g id="text_35">
      <text style="font-size: 28.525px; font-family: 'DejaVu Sans', sans-serif" transform="translate(789.542691 449.744967) rotate(-90)">6.0</text>
     </g>
    </g>
    <g id="ytick_21">
     <g id="line2d_71">
      <path d="M 800.725 310.7500 L 1082.575 310.7500 " clip-path="url(#p99d2188cec)" style="fill: none; stroke: #b0b0b0; stroke-width: 0.5; stroke-linecap: square"/>
     </g>
     <g id="line2d_72">
      <g>
       <use xlink:href="#m4d8415eed5" x="800.7500" y="310.7500" style="stroke: #000000; stroke-width: 0.5"/>
      </g>
     </g>
     <g id="text_36">
      <text style="font-size: 28.525px; font-family: 'DejaVu Sans', sans-serif" transform="translate(789.542691 344.975046) rotate(-90)">7.0</text>
     </g>
    </g>
    <g id="ytick_22">
     <g id="line2d_73">
      <path d="M 800.725 205.7500 L 1082.575 205.7500 " clip-path="url(#p99d2188cec)" style="fill: none; stroke: #b0b0b0; stroke-width: 0.5; stroke-linecap: square"/>
     </g>
     <g id="line2d_74">
      <g>
       <use xlink:href="#m4d8415eed5" x="800.7500" y="205.7500" style="stroke: #000000; stroke-width: 0.5"/>
      </g>
     </g>
     <g id="text_37">
      <text style="font-size: 28.525px; font-family: 'DejaVu Sans', sans-serif" transform="translate(789.542691 240.205124) rotate(-90)">8.0</text>
     </g>
    </g>
    <g id="ytick_23">
     <g id="line2d_75">
      <path d="M 800.725 101.2500 L 1082.575 101.2500 " clip-path="url(#p99d2188cec)" style="fill: none; stroke: #b0b0b0; stroke-width: 0.5; stroke-linecap: square"/>
     </g>
     <g id="line2d_76">
      <g>
       <use xlink:href="#m4d8415eed5" x="800.7500" y="101.2500" style="stroke: #000000; stroke-width: 0.5"/>
      </g>
     </g>
     <g id="text_38">
      <text style="font-size: 28.525px; font-family: 'DejaVu Sans', sans-serif" transform="translate(789.542691 135.435203) rotate(-90)">9.0</text>
     </g>
    </g>
   </g>
   <g id="line2d_77">
    <path d="M 813.536364 939.068182 L 864.781818 939.068182 L 916.027273 939.068182 L 967.272727 939.068182 L 1018.518182 939.068182 L 1069.763636 939.068182 " clip-path="url(#p99d2188cec)" style="fill: none; stroke: #1f77b4; stroke-width: 2; stroke-linecap: square"/>
    <g clip-path="url(#p99d2188cec)">
     <use xlink:href="#m7fca04d956" x="813.536364" y="939.068182" style="fill: #1f77b4; stroke: #1f77b4"/>
     <use xlink:href="#m7fca04d956" x="864.781818" y="939.068182" style="fill: #1f77b4; stroke: #1f77b4"/>
     <use xlink:href="#m7fca04d956" x="916.027273" y="939.068182" style="fill: #1f77b4; stroke: #1f77b4"/>
     <use xlink:href="#m7fca04d956" x="967.272727" y="939.068182" style="fill: #1f77b4; stroke: #1f77b4"/>
     <use xlink:href="#m7fca04d956" x="1018.518182" y="939.068182" style="fill: #1f77b4; stroke: #1f77b4"/>
     <use xlink:href="#m7fca04d956" x="1069.763636" y="939.068182" style="fill: #1f77b4; stroke: #1f77b4"/>
    </g>
   </g>
   <g id="line2d_78">
    <path d="M 813.536364 205.678732 L 864.781818 205.678732 L 916.027273 205.678732 L 967.272727 205.678732 L 1018.518182 205.678732 L 1069.763636 205.678732 " clip-path="url(#p99d2188cec)" style="fill: none; stroke: #ff7f0e; stroke-width: 2; stroke-linecap: square"/>
    <g clip-path="url(#p99d2188cec)">
     <use xlink:href="#mcfdd48ca96" x="813.536364" y="205.678732" style="fill: #ff7f0e; stroke: #ff7f0e; stroke-linejoin: miter"/>
     <use xlink:href="#mcfdd48ca96" x="864.781818" y="205.678732" style="fill: #ff7f0e; stroke: #ff7f0e; stroke-linejoin: miter"/>
     <use xlink:href="#mcfdd48ca96" x="916.027273" y="205.678732" style="fill: #ff7f0e; stroke: #ff7f0e; stroke-linejoin: miter"/>
     <use xlink:href="#mcfdd48ca96" x="967.272727" y="205.678732" style="fill: #ff7f0e; stroke: #ff7f0e; stroke-linejoin: miter"/>
     <use xlink:href="#mcfdd48ca96" x="1018.518182" y="205.678732" style="fill: #ff7f0e; stroke: #ff7f0e; stroke-linejoin: miter"/>
     <use xlink:href="#mcfdd48ca96" x="1069.763636" y="205.678732" style="fill: #ff7f0e; stroke: #ff7f0e; stroke-linejoin: miter"/>
    </g>
   </g>
   <g id="line2d_79">
    <path d="M 813.536364 121.862795 L 864.781818 593.327441 L 916.027273 771.436308 L 967.272727 886.683221 L 1018.518182 918.114198 L 1069.763636 939.068182 " clip-path="url(#p99d2188cec)" style="fill: none; stroke: #2ca02c; stroke-width: 2; stroke-linecap: square"/>
    <g clip-path="url(#p99d2188cec)">
     <use xlink:href="#mfa1b8ec4ec" x="813.536364" y="121.862795" style="fill: #2ca02c; stroke: #2ca02c"/>
     <use xlink:href="#mfa1b8ec4ec" x="864.781818" y="593.327441" style="fill: #2ca02c; stroke: #2ca02c"/>
     <use xlink:href="#mfa1b8ec4ec" x="916.027273" y="771.436308" style="fill: #2ca02c; stroke: #2ca02c"/>
     <use xlink:href="#mfa1b8ec4ec" x="967.272727" y="886.683221" style="fill: #2ca02c; stroke: #2ca02c"/>
     <use xlink:href="#mfa1b8ec4ec" x="1018.518182" y="918.114198" style="fill: #2ca02c; stroke: #2ca02c"/>
     <use xlink:href="#mfa1b8ec4ec" x="1069.763636" y="939.068182" style="fill: #2ca02c; stroke: #2ca02c"/>
    </g>
   </g>
   <g id="line2d_80">
    <path d="M 813.536364 90.431818 L 864.781818 603.804433 L 916.027273 753.625421 L 967.272727 876.206229 L 1018.518182 897.160213 L 1069.763636 907.637205 " clip-path="url(#p99d2188cec)" style="fill: none; stroke: #d62728; stroke-width: 2; stroke-linecap: square"/>
    <g clip-path="url(#p99d2188cec)">
     <use xlink:href="#mf3e1eaf41d" x="813.536364" y="90.431818" style="fill: #d62728; stroke: #d62728"/>
     <use xlink:href="#mf3e1eaf41d" x="864.781818" y="603.804433" style="fill: #d62728; stroke: #d62728"/>
     <use xlink:href="#mf3e1eaf41d" x="916.027273" y="753.625421" style="fill: #d62728; stroke: #d62728"/>
     <use xlink:href="#mf3e1eaf41d" x="967.272727" y="876.206229" style="fill: #d62728; stroke: #d62728"/>
     <use xlink:href="#mf3e1eaf41d" x="1018.518182" y="897.160213" style="fill: #d62728; stroke: #d62728"/>
     <use xlink:href="#mf3e1eaf41d" x="1069.763636" y="907.637205" style="fill: #d62728; stroke: #d62728"/>
    </g>
   </g>
   <g id="line2d_81">
    <path d="M 813.536364 163.770763 L 864.781818 656.189394 L 916.027273 844.775253 L 967.272727 921.257295 L 1018.518182 928.59119 L 1069.763636 939.068182 " clip-path="url(#p99d2188cec)" style="fill: none; stroke: #9467bd; stroke-width: 2; stroke-linecap: square"/>
    <g clip-path="url(#p99d2188cec)">
     <use xlink:href="#mfa4d818916" x="813.536364" y="163.770763" style="fill: #9467bd; stroke: #9467bd; stroke-linejoin: miter"/>
     <use xlink:href="#mfa4d818916" x="864.781818" y="656.189394" style="fill: #9467bd; stroke: #9467bd; stroke-linejoin: miter"/>
     <use xlink:href="#mfa4d818916" x="916.027273" y="844.775253" style="fill: #9467bd; stroke: #9467bd; stroke-linejoin: miter"/>
     <use xlink:href="#mfa4d818916" x="967.272727" y="921.257295" style="fill: #9467bd; stroke: #9467bd; stroke-linejoin: miter"/>
     <use xlink:href="#mfa4d818916" x="1018.518182" y="928.59119" style="fill: #9467bd; stroke: #9467bd; stroke-linejoin: miter"/>
     <use xlink:href="#mfa4d818916" x="1069.763636" y="939.068182" style="fill: #9467bd; stroke: #9467bd; stroke-linejoin: miter"/>
    </g>
   </g>
   <g id="line2d_82">
    <path d="M 813.536364 142.816779 L 864.781818 656.189394 L 916.027273 813.344276 L 967.272727 907.637205 L 1018.518182 918.114198 L 1069.763636 928.59119 " clip-path="url(#p99d2188cec)" style="fill: none; stroke: #8c564b; stroke-width: 2; stroke-linecap: square"/>
    <g clip-path="url(#p99d2188cec)">
     <use xlink:href="#m0a47471f37" x="813.536364" y="142.816779" style="fill: #8c564b; stroke: #8c564b"/>
     <use xlink:href="#m0a47471f37" x="864.781818" y="656.189394" style="fill: #8c564b; stroke: #8c564b"/>
     <use xlink:href="#m0a47471f37" x="916.027273" y="813.344276" style="fill: #8c564b; stroke: #8c564b"/>
     <use xlink:href="#m0a47471f37" x="967.272727" y="907.637205" style="fill: #8c564b; stroke: #8c564b"/>
     <use xlink:href="#m0a47471f37" x="1018.518182" y="918.114198" style="fill: #8c564b; stroke: #8c564b"/>
     <use xlink:href="#m0a47471f37" x="1069.763636" y="928.59119" style="fill: #8c564b; stroke: #8c564b"/>
    </g>
   </g>
   <g id="patch_13">
    <path d="M 800.7500 981.7500 L 800.7500 48.2500 " style="fill: none; stroke: #000000; stroke-width: 0.5; stroke-linejoin: miter; stroke-linecap: square"/>
   </g>
   <g id="patch_14">
    <path d="M 1082.7500 981.7500 L 1082.7500 48.2500 " style="fill: none; stroke: #000000; stroke-width: 0.5; stroke-linejoin: miter; stroke-linecap: square"/>
   </g>
   <g id="patch_15">
    <path d="M 800.7500 981.7500 L 1082.7500 981.7500 " style="fill: none; stroke: #000000; stroke-width: 0.5; stroke-linejoin: miter; stroke-linecap: square"/>
   </g>
   <g id="patch_16">
    <path d="M 800.7500 48.2500 L 1082.7500 48.2500 " style="fill: none; stroke: #000000; stroke-width: 0.5; stroke-linejoin: miter; stroke-linecap: square"/>
   </g>
   <g id="text_39">
    <text style="font-size: 34.23px; font-family: 'DejaVu Sans', sans-serif; text-anchor: middle" x="942.25" y="40.88123" transform="rotate(-0 942.25 40.88123)">(256, 192)-code</text>
   </g>
  </g>
  <g id="patch_17">
   <path d="M 28.665 1091.5 L 1182.85 1091.5 Q 1188.55 1091.5 1188.55 1097.2 L 1188.55 1178.3 Q 1188.55 1184 1182.85 1184 L 28.665 1184 Q 22.965 1184 22.965 1178.3 L 22.965 1097.2 Q 22.965 1091.5 28.665 1091.5 z
" style="fill: #4d4d4d; stroke: #4d4d4d; stroke-linejoin: miter"/>
  </g>
  <g id="patch_18">
   <path d="M 26.665 1089.5 L 1180.85 1089.5 Q 1186.55 1089.5 1186.55 1095.2 L 1186.55 1176.3 Q 1186.55 1182 1180.85 1182 L 26.665 1182 Q 20.965 1182 20.965 1176.3 L 20.965 1095.2 Q 20.965 1089.5 26.665 1089.5 z
" style="fill: #ffffff; stroke: #cccccc; stroke-linejoin: miter"/>
  </g>
  <g id="line2d_83">
   <path d="M 32.3 1113.2 L 89.25 1113.2 " style="fill: none; stroke: #1f77b4; stroke-width: 1.5; stroke-linecap: square"/>
  </g>
  <g id="line2d_84">
   <path d="M 32.3 1154.75 L 89.25 1154.75 " style="fill: none; stroke: #ff7f0e; stroke-width: 1.5; stroke-linecap: square"/>
  </g>
  <g id="line2d_85">
   <path d="M 321.85 1113.2 L 378.5 1113.2 " style="fill: none; stroke: #2ca02c; stroke-width: 1.5; stroke-linecap: square"/>
  </g>
  <g id="line2d_86">
   <path d="M 321.85 1154.75 L 378.5 1154.75 " style="fill: none; stroke: #d62728; stroke-width: 1.5; stroke-linecap: square"/>
  </g>
  <g id="line2d_87">
   <path d="M 720.4 1113.2 L 777.1 1113.2 " style="fill: none; stroke: #9467bd; stroke-width: 1.5; stroke-linecap: square"/>
  </g>
  <g id="line2d_88">
   <path d="M 720.4 1154.75 L 777.1 1154.75 " style="fill: none; stroke: #8c564b; stroke-width: 1.5; stroke-linecap: square"/>
  </g>
  <g id="line2d_89">
   <g>
    <use xlink:href="#m7fca04d956" x="60.775" y="1113.2" style="fill: #1f77b4; stroke: #1f77b4"/>
   </g>
  </g>
  <g id="line2d_90">
   <g>
    <use xlink:href="#mcfdd48ca96" x="60.775" y="1154.75" style="fill: #ff7f0e; stroke: #ff7f0e; stroke-linejoin: miter"/>
   </g>
  </g>
  <g id="line2d_91">
   <g>
    <use xlink:href="#mfa1b8ec4ec" x="350.175" y="1113.2" style="fill: #2ca02c; stroke: #2ca02c"/>
   </g>
  </g>
  <g id="line2d_92">
   <g>
    <use xlink:href="#mf3e1eaf41d" x="350.175" y="1154.75" style="fill: #d62728; stroke: #d62728"/>
   </g>
  </g>
  <g id="line2d_93">
   <g>
    <use xlink:href="#mfa4d818916" x="748.75" y="1113.2" style="fill: #9467bd; stroke: #9467bd; stroke-linejoin: miter"/>
   </g>
  </g>
  <g id="line2d_94">
   <g>
    <use xlink:href="#m0a47471f37" x="748.75" y="1154.75" style="fill: #8c564b; stroke: #8c564b"/>
   </g>
  </g>
  <g id="text_40">
   <text style="font-size: 28.525px; font-family: 'DejaVu Sans', sans-serif; text-anchor: start" x="111.135" y="1122.95" transform="rotate(-0 111.135 1122.95)">SC</text>
  </g>
  <g id="text_41">
   <!-- SCL ($L=8$) -->
   <g transform="translate(111.135 1164)">
    <text><tspan x="0" y="-0" style="font-size: 28.525px; font-family: 'DejaVu Sans', sans-serif">S</tspan><tspan x="18.09082" y="-0" style="font-size: 28.525px; font-family: 'DejaVu Sans', sans-serif">C</tspan><tspan x="37.990723" y="-0" style="font-size: 28.525px; font-family: 'DejaVu Sans', sans-serif">L</tspan><tspan x="53.868896" y="-0" style="font-size: 28.525px; font-family: 'DejaVu Sans', sans-serif"> </tspan><tspan x="62.928223" y="-0" style="font-size: 28.525px; font-family: 'DejaVu Sans', sans-serif">(</tspan><tspan x="74.047119" y="-0" style="font-style: oblique; font-size: 28.525px; font-family: 'DejaVu Sans', sans-serif">L</tspan><tspan x="95.477783" y="-0" style="font-size: 28.525px; font-family: 'DejaVu Sans', sans-serif">=</tspan><tspan x="124.910156" y="-0" style="font-size: 28.525px; font-family: 'DejaVu Sans', sans-serif">8</tspan><tspan x="143.042725" y="-0" style="font-size: 28.525px; font-family: 'DejaVu Sans', sans-serif">)</tspan></text>
   </g>
  </g>
  <g id="text_42">
   <!-- SCS ($L=8, D=10$) -->
   <g transform="translate(400.59 1122.45)">
    <text><tspan x="0" y="-0" style="font-size: 28.525px; font-family: 'DejaVu Sans', sans-serif">S</tspan><tspan x="18.09082" y="-0" style="font-size: 28.525px; font-family: 'DejaVu Sans', sans-serif">C</tspan><tspan x="37.990723" y="-0" style="font-size: 28.525px; font-family: 'DejaVu Sans', sans-serif">S</tspan><tspan x="56.081543" y="-0" style="font-size: 28.525px; font-family: 'DejaVu Sans', sans-serif"> </tspan><tspan x="65.140869" y="-0" style="font-size: 28.525px; font-family: 'DejaVu Sans', sans-serif">(</tspan><tspan x="76.259766" y="-0" style="font-style: oblique; font-size: 28.525px; font-family: 'DejaVu Sans', sans-serif">L</tspan><tspan x="97.69043" y="-0" style="font-size: 28.525px; font-family: 'DejaVu Sans', sans-serif">=</tspan><tspan x="127.122803" y="-0" style="font-size: 28.525px; font-family: 'DejaVu Sans', sans-serif">8</tspan><tspan x="145.255371" y="-0" style="font-size: 28.525px; font-family: 'DejaVu Sans', sans-serif">,</tspan><tspan x="159.867188" y="-0" style="font-style: oblique; font-size: 28.525px; font-family: 'DejaVu Sans', sans-serif">D</tspan><tspan x="187.365234" y="-0" style="font-size: 28.525px; font-family: 'DejaVu Sans', sans-serif">=</tspan><tspan x="216.797607" y="-0" style="font-size: 28.525px; font-family: 'DejaVu Sans', sans-serif">1</tspan><tspan x="234.930176" y="-0" style="font-size: 28.525px; font-family: 'DejaVu Sans', sans-serif">0</tspan><tspan x="253.062744" y="-0" style="font-size: 28.525px; font-family: 'DejaVu Sans', sans-serif">)</tspan></text>
   </g>
  </g>
  <g id="text_43">
   <!-- SC-Fano ($T=1$) -->
   <g transform="translate(400.59 1164)">
    <text><tspan x="0" y="-0" style="font-size: 28.525px; font-family: 'DejaVu Sans', sans-serif">S</tspan><tspan x="18.09082" y="-0" style="font-size: 28.525px; font-family: 'DejaVu Sans', sans-serif">C</tspan><tspan x="37.990723" y="-0" style="font-size: 28.525px; font-family: 'DejaVu Sans', sans-serif">-</tspan><tspan x="48.274658" y="-0" style="font-size: 28.525px; font-family: 'DejaVu Sans', sans-serif">F</tspan><tspan x="64.667725" y="-0" style="font-size: 28.525px; font-family: 'DejaVu Sans', sans-serif">a</tspan><tspan x="82.132324" y="-0" style="font-size: 28.525px; font-family: 'DejaVu Sans', sans-serif">n</tspan><tspan x="100.195312" y="-0" style="font-size: 28.525px; font-family: 'DejaVu Sans', sans-serif">o</tspan><tspan x="117.63208" y="-0" style="font-size: 28.525px; font-family: 'DejaVu Sans', sans-serif"> </tspan><tspan x="126.691406" y="-0" style="font-size: 28.525px; font-family: 'DejaVu Sans', sans-serif">(</tspan><tspan x="137.810303" y="-0" style="font-style: oblique; font-size: 28.525px; font-family: 'DejaVu Sans', sans-serif">T</tspan><tspan x="160.771729" y="-0" style="font-size: 28.525px; font-family: 'DejaVu Sans', sans-serif">=</tspan><tspan x="190.204102" y="-0" style="font-size: 28.525px; font-family: 'DejaVu Sans', sans-serif">1</tspan><tspan x="208.33667" y="-0" style="font-size: 28.525px; font-family: 'DejaVu Sans', sans-serif">)</tspan></text>
   </g>
  </g>
  <g id="text_44">
   <!-- SC-Creeper ($T=1$) -->
   <g transform="translate(799.62 1122.45)">
    <text><tspan x="0" y="-0" style="font-size: 28.525px; font-family: 'DejaVu Sans', sans-serif">S</tspan><tspan x="18.09082" y="-0" style="font-size: 28.525px; font-family: 'DejaVu Sans', sans-serif">C</tspan><tspan x="37.990723" y="-0" style="font-size: 28.525px; font-family: 'DejaVu Sans', sans-serif">-</tspan><tspan x="48.274658" y="-0" style="font-size: 28.525px; font-family: 'DejaVu Sans', sans-serif">C</tspan><tspan x="68.174561" y="-0" style="font-size: 28.525px; font-family: 'DejaVu Sans', sans-serif">r</tspan><tspan x="79.891846" y="-0" style="font-size: 28.525px; font-family: 'DejaVu Sans', sans-serif">e</tspan><tspan x="97.426025" y="-0" style="font-size: 28.525px; font-family: 'DejaVu Sans', sans-serif">e</tspan><tspan x="114.960205" y="-0" style="font-size: 28.525px; font-family: 'DejaVu Sans', sans-serif">p</tspan><tspan x="133.051025" y="-0" style="font-size: 28.525px; font-family: 'DejaVu Sans', sans-serif">e</tspan><tspan x="150.585205" y="-0" style="font-size: 28.525px; font-family: 'DejaVu Sans', sans-serif">r</tspan><tspan x="162.30249" y="-0" style="font-size: 28.525px; font-family: 'DejaVu Sans', sans-serif"> </tspan><tspan x="171.361816" y="-0" style="font-size: 28.525px; font-family: 'DejaVu Sans', sans-serif">(</tspan><tspan x="182.480713" y="-0" style="font-style: oblique; font-size: 28.525px; font-family: 'DejaVu Sans', sans-serif">T</tspan><tspan x="205.442139" y="-0" style="font-size: 28.525px; font-family: 'DejaVu Sans', sans-serif">=</tspan><tspan x="234.874512" y="-0" style="font-size: 28.525px; font-family: 'DejaVu Sans', sans-serif">1</tspan><tspan x="253.00708" y="-0" style="font-size: 28.525px; font-family: 'DejaVu Sans', sans-serif">)</tspan></text>
   </g>
  </g>
  <g id="text_45">
   <text style="font-size: 28.525px; font-family: 'DejaVu Sans', sans-serif; text-anchor: start" x="799.62" y="1164" transform="rotate(-0 799.62 1164)">SC-Creeper (cost function)</text>
  </g>
 </g>
 <defs>
  <clipPath id="p4440f351e7">
   <rect x="124.325" y="48" width="281.85" height="933.5"/>
  </clipPath>
  <clipPath id="p28c9ab3d0b">
   <rect x="462.525" y="48" width="281.85" height="933.5"/>
  </clipPath>
  <clipPath id="p99d2188cec">
   <rect x="800.725" y="48" width="281.85" height="933.5"/>
  </clipPath>
 </defs>
</svg>

</body></html>
